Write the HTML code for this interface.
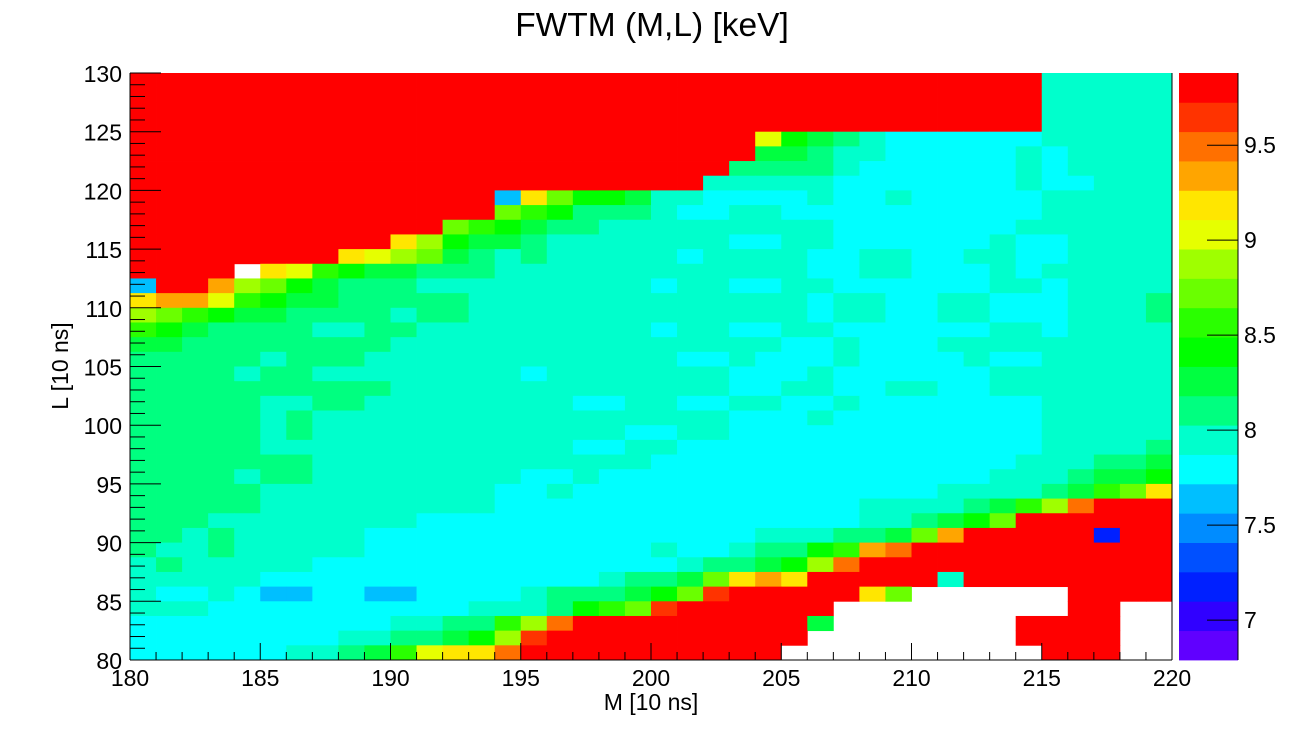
<!DOCTYPE html>
<html><head><meta charset="utf-8"><style>
html,body{margin:0;padding:0;background:#fff;}
svg{display:block;font-family:"Liberation Sans",Arial,sans-serif;}
</style></head><body>
<svg id="chart" width="1304" height="735" viewBox="0 0 1304 735" xmlns="http://www.w3.org/2000/svg">
<rect x="0" y="0" width="1304" height="735" fill="#fff"/>
<text x="652" y="36" font-size="33.5" text-anchor="middle" fill="#000">FWTM (M,L) [keV]</text>
<g id="cells"></g>
<g id="palette"></g>
<g id="axes"></g>
<text x="651" y="710" font-size="23" text-anchor="middle" fill="#000">M [10 ns]</text>
<text x="0" y="0" font-size="23" text-anchor="middle" fill="#000" transform="translate(68,366) rotate(-90)">L [10 ns]</text>
</svg>
<script>
// ---- data ----
const xMin = 180, xMax = 220, nX = 40;
const yMin = 80, yMax = 130, nY = 40;
const zMin = 6.79, zMax = 9.88, nLevels = 20;
const xTicks = [180,185,190,195,200,205,210,215,220];
const yTicks = [80,85,90,95,100,105,110,115,120,125,130];
const zTicks = [7,7.5,8,8.5,9,9.5];
const zTickLabels = ["7","7.5","8","8.5","9","9.5"];
const levelCodes = "VvDdBbctmEgGlLyYOPQR";
// rows from top (L=130) to bottom (L=80), run-length encoded level codes; W = empty
const rowsRLE = [
"R35 t5","R35 t5","R35 t5","R35 t5",
"R24 y1 g1 E1 m1 t1 c6 t5",
"R24 E2 m1 t2 c5 t1 c1 t4",
"R23 m4 t1 c6 t1 c1 t4",
"R22 t5 c7 t1 c2 t3",
"R14 b1 Y1 l1 g2 E1 t2 c4 t1 c2 t1 c5 t5",
"R14 l1 G1 g1 m3 t1 c2 t2 c10 t5",
"R12 l1 G1 g1 E1 m2 t9 c7 t6",
"R10 Y1 L1 g1 E2 m1 t7 c2 t2 c6 t1 c2 t4",
"R8 Y1 y1 L1 l1 E1 m1 t1 m1 t5 c1 t4 c2 t2 c2 t2 c2 t4",
"R4 W1 Y1 y1 G1 g1 E2 m3 t12 c2 t2 c3 t1 c1 t5",
"b1 R2 O1 L1 l1 g1 E1 m3 t9 c1 t2 c2 t2 c6 t2 c1 t4",
"Y1 O2 y1 G1 g1 E2 m5 t13 c1 t2 c2 t2 c3 t3 m1",
"L1 l1 G1 g1 E2 m4 t1 m2 t13 c1 t2 c2 t2 c3 t3 m1",
"G1 g1 E1 m4 t2 m2 t9 c1 t2 c2 t2 c6 t2 c1 t4",
"E2 m8 t15 c2 t1 c3 t9",
"m5 t1 m3 t12 c2 t1 c3 t1 c4 t1 c2 t5",
"m4 t1 m2 t8 c1 t7 c3 t1 c6 t7",
"m10 t13 c2 t2 c2 t2 c2 t7",
"m5 t2 m2 t8 c2 t2 c2 t2 c2 t1 c7 t5",
"m5 t1 m1 t16 c3 t1 c8 t5",
"m5 t1 m1 t12 c2 t2 c12 t5",
"m5 t12 c2 t2 c14 t4 m1",
"m7 t13 c14 t3 m2 E1",
"m4 t1 m2 t8 c2 t1 c15 t3 m1 E2 g1",
"m5 t9 c2 t1 c14 t4 m1 E1 G1 l1 Y1",
"m5 t9 c14 t4 m1 E1 G1 L1 P1 R3",
"m3 t8 c17 t2 m1 E1 g1 l1 R6",
"m2 t1 m1 t5 c15 t3 m2 E1 l1 O1 R5 D1 R2",
"m1 t2 m1 t5 c11 t1 c2 t1 m2 g1 G1 O1 P1 R10",
"t1 m1 t5 c14 t1 m2 E1 g1 L1 P1 R12",
"t5 c13 t1 m2 E1 l1 Y1 O1 Y1 R5 t1 R8",
"t1 c2 t1 c1 b2 c2 b2 c4 t1 m3 E1 g1 l1 Q1 R5 Y1 l1 W6 R4",
"t3 c10 t3 m1 g1 G1 l1 Q1 R6 W9 R2 W2",
"c10 t2 m2 G1 L1 P1 R9 E1 W7 R4 W2",
"c8 t2 m2 E1 g1 L1 Q1 R10 W8 R4 W2",
"c6 t2 m1 E1 G1 y1 Y2 P1 R10 W10 R3 W2"
];
const paletteColors = ["#6000ff","#3000ff","#0020ff","#0050ff","#008cff","#00bfff","#00ffff","#00ffcc","#00ff80","#00ff40","#00ff00","#2aff00","#6aff00","#9fff00","#e6ff00","#ffe600","#ffa500","#ff7000","#ff3300","#ff0000"];

// decode into numeric z values (null = empty)
const zStep = (zMax - zMin) / nLevels;
const zValues = rowsRLE.map(r => {
  const out = [];
  r.split(" ").forEach(tok => {
    const c = tok[0], n = parseInt(tok.slice(1), 10);
    for (let i = 0; i < n; i++) {
      out.push(c === "W" ? null : zMin + (levelCodes.indexOf(c) + 0.5) * zStep);
    }
  });
  return out;
});

// ---- geometry ----
const PL = 130, PR = 1172, PT = 73, PB = 660;
const xs = v => PL + (v - xMin) / (xMax - xMin) * (PR - PL);
const ys = v => PB - (v - yMin) / (yMax - yMin) * (PB - PT);
const ZL = 1179, ZR = 1238;
const zs = v => PB - (v - zMin) / (zMax - zMin) * (PB - PT);
const colorOf = v => {
  let i = Math.floor((v - zMin) / zStep);
  i = Math.max(0, Math.min(nLevels - 1, i));
  return paletteColors[i];
};
const NS = "http://www.w3.org/2000/svg";
function mk(tag, attrs, parent) {
  const e = document.createElementNS(NS, tag);
  for (const k in attrs) e.setAttribute(k, attrs[k]);
  parent.appendChild(e);
  return e;
}

// cells
const gCells = document.getElementById("cells");
const dx = (xMax - xMin) / nX, dy = (yMax - yMin) / nY;
zValues.forEach((row, r) => {
  const yTop = yMax - r * dy;
  row.forEach((v, c) => {
    if (v === null) return;
    const x0 = xs(xMin + c * dx), x1 = xs(xMin + (c + 1) * dx);
    const y0 = ys(yTop), y1 = ys(yTop - dy);
    const rect = mk("rect", {x: x0, y: y0, width: x1 - x0 + 0.4, height: y1 - y0 + 0.4, fill: colorOf(v)}, gCells);
    
    
  });
});

// palette
const gPal = document.getElementById("palette");
paletteColors.forEach((col, i) => {
  const y0 = zs(zMin + (i + 1) * zStep), y1 = zs(zMin + i * zStep);
  const pr = mk("rect", {x: ZL, y: y0, width: ZR - ZL, height: y1 - y0 + 0.4, fill: col}, gPal);
  
  
});
const pAxis = mk("line", {x1: ZR, y1: PT, x2: ZR, y2: PB, stroke: "#000", "stroke-width": 1}, gPal);


zTicks.forEach((t, i) => {
  const y = zs(t);
  const tl = mk("line", {x1: ZR - 31, y1: y, x2: ZR, y2: y, stroke: "#000", "stroke-width": 1}, gPal);
  
  
  const tx = mk("text", {x: ZR + 6, y: y + 8, "font-size": 23, fill: "#000"}, gPal);
  tx.textContent = zTickLabels[i];
  
  
});

// axes
const gAx = document.getElementById("axes");
const xAxisLine = mk("line", {x1: PL, y1: PB, x2: PR, y2: PB, stroke: "#000", "stroke-width": 1}, gAx);


const yAxisLine = mk("line", {x1: PL, y1: PT, x2: PL, y2: PB, stroke: "#000", "stroke-width": 1}, gAx);


const rightLine = mk("line", {x1: PR, y1: PT, x2: PR, y2: PB, stroke: "#000", "stroke-width": 1}, gAx);


for (let v = xMin; v <= xMax; v += 1) {
  const major = (v - xMin) % 5 === 0;
  const x = xs(v);
  const tk = mk("line", {x1: x, y1: PB, x2: x, y2: PB - (major ? 17 : 8), stroke: "#000", "stroke-width": 1}, gAx);
  
  
}
xTicks.forEach(t => {
  const tx = mk("text", {x: xs(t), y: 686, "font-size": 23, "text-anchor": "middle", fill: "#000"}, gAx);
  tx.textContent = String(t);
  
  
});
for (let v = yMin; v <= yMax; v += 1) {
  const major = (v - yMin) % 5 === 0;
  const y = ys(v);
  const tk = mk("line", {x1: PL, y1: y, x2: PL + (major ? 31 : 15), y2: y, stroke: "#000", "stroke-width": 1}, gAx);
  
  
}
yTicks.forEach(t => {
  const tx = mk("text", {x: 122, y: ys(t) + 9, "font-size": 23, "text-anchor": "end", fill: "#000"}, gAx);
  tx.textContent = String(t);
  
  
});
</script>
</body></html>
